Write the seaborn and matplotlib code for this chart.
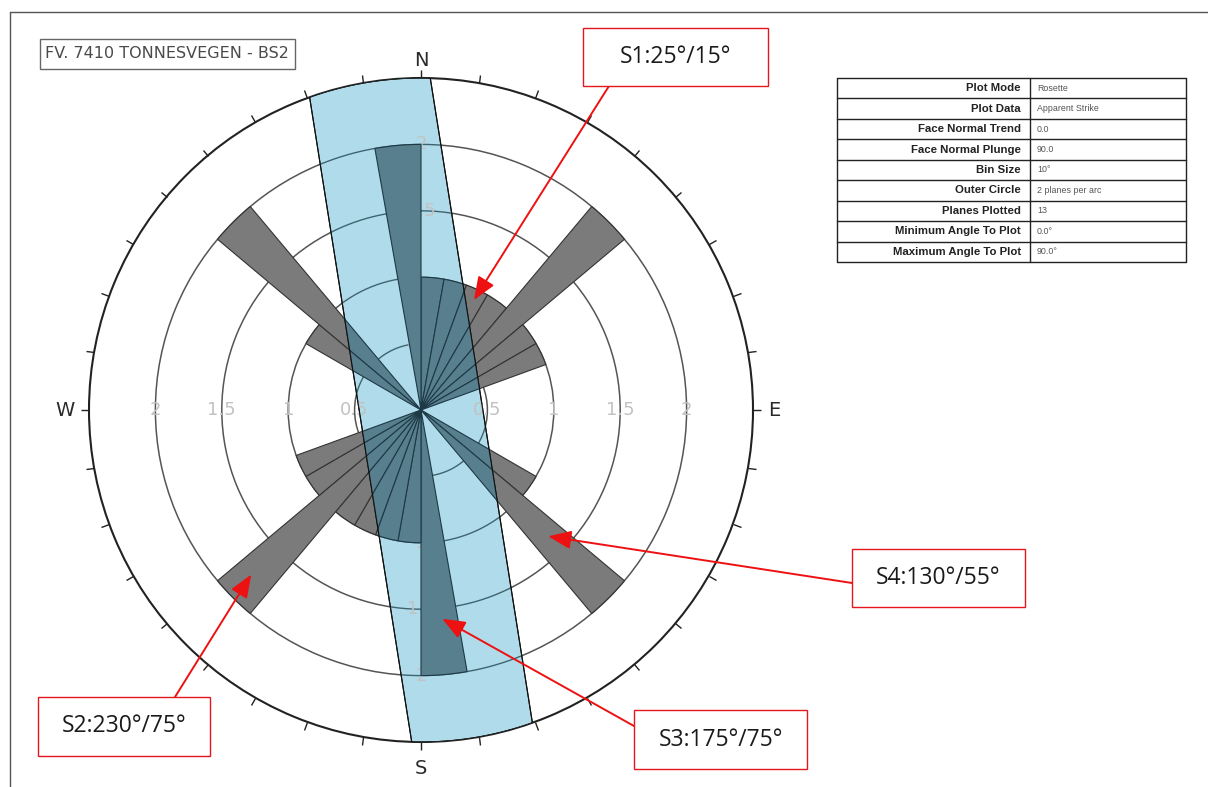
import numpy as np
import pandas as pd
import matplotlib
matplotlib.use("Agg")
import matplotlib.pyplot as plt
import seaborn as sns
from matplotlib.patches import Rectangle, Polygon
from matplotlib.lines import Line2D

# ---- rose diagram data: apparent strike, 10° bins (counts of planes) ----
bin_start = [0, 10, 20, 30, 40, 50, 60, 120, 130, 170]
bin_count = [1, 1, 1, 1, 2, 1, 1, 1, 2, 2]
bin_size = 10
ring_values = [0.5, 1, 1.5, 2]
ring_labels = ["0.5", "1", "1.5", "2"]
outer_radius = 2.5

cardinal_names = ["N", "E", "S", "W"]
cardinal_az = [0, 90, 180, 270]
cardinal_r = [2.63, 2.66, 2.70, 2.68]

# slope face window (strike and half width, in plot units)
face_strike = 171
face_half_width = 0.46

# joint sets with the point each callout indicates
set_labels = ["S1:25°/15°", "S2:230°/75°", "S3:175°/75°", "S4:130°/55°"]
set_az = [25.7, 225.9, 174.2, 134.8]
set_r = [0.92, 1.78, 1.58, 1.35]

title = "FV. 7410 TONNESVEGEN - BS2"
info_keys = ["Plot Mode", "Plot Data", "Face Normal Trend", "Face Normal Plunge",
             "Bin Size", "Outer Circle", "Planes Plotted",
             "Minimum Angle To Plot", "Maximum Angle To Plot"]
info_vals = ["Rosette", "Apparent Strike", "0.0", "90.0", "10°",
             "2 planes per arc", "13", "0.0°", "90.0°"]

# strikes are bidirectional: each bin is drawn at both ends
rose = pd.DataFrame({"start": bin_start, "count": bin_count})
rose = pd.concat([rose, rose.assign(start=rose["start"] + 180)], ignore_index=True)

sns.set_theme(style="white")
plt.rcParams["font.family"] = ["DejaVu Sans"]
plt.rcParams["xtick.bottom"] = True
plt.rcParams["xtick.top"] = True

W, H = 1208, 787
fig = plt.figure(figsize=(W / 100, H / 100), dpi=100)
fig.patch.set_facecolor("white")


def fx(px):
    return px / W


def fy(py):
    return (H - py) / H


# outer frame (top and left edges)
fig.add_artist(Line2D([fx(10), 1.0], [fy(12), fy(12)], color="#555555", lw=1.0))
fig.add_artist(Line2D([fx(10), fx(10)], [fy(12), 0.0], color="#555555", lw=1.0))

# polar axes for the rose
cx, cy, R = 421, 410, 332
ax = fig.add_axes([fx(cx - R), fy(cy + R), 2 * R / W, 2 * R / H], projection="polar")
ax.set_theta_zero_location("N")
ax.set_theta_direction(-1)
ax.set_ylim(0, outer_radius)
ax.set_axisbelow(True)
ax.set_yticks(ring_values)
ax.set_yticklabels([])
ax.yaxis.grid(True, color="#555555", lw=1.1)
ax.set_xticks(np.deg2rad(np.arange(0, 360, 10)))
ax.set_xticklabels([])
ax.xaxis.grid(False)
ax.tick_params(axis="x", which="major", bottom=True, top=True, direction="out",
               length=6, width=1.0, color="#222222")
ax.spines["polar"].set_linewidth(1.5)
ax.spines["polar"].set_color("#222222")
ax.set_facecolor("white")

theta = np.deg2rad(rose["start"].to_numpy())
width = np.deg2rad(bin_size)
ax.bar(theta, rose["count"], width=width, align="edge", color="#7b7b7b",
       edgecolor="#333333", lw=0.8, zorder=2)

# slope face window: a strip along the face strike, clipped by the outer circle
t = np.deg2rad(face_strike)
u = np.array([np.sin(t), np.cos(t)])   # along strike (east, north)
nrm = np.array([np.cos(t), -np.sin(t)])  # across strike
L = np.sqrt(outer_radius ** 2 - face_half_width ** 2)
ls = np.linspace(-L, L, 600)
edge_a = (-face_half_width) * nrm[None, :] + ls[:, None] * u[None, :]
edge_b = (face_half_width) * nrm[None, :] + ls[::-1, None] * u[None, :]


def to_polar(pts):
    return np.arctan2(pts[:, 0], pts[:, 1]), np.hypot(pts[:, 0], pts[:, 1])


def arc(p0, p1):
    a0 = np.arctan2(p0[0], p0[1])
    a1 = np.arctan2(p1[0], p1[1])
    d = (a1 - a0 + np.pi) % (2 * np.pi) - np.pi
    aa = a0 + np.linspace(0, d, 60)
    return aa, np.full_like(aa, outer_radius)


ta, ra = to_polar(edge_a)
tb, rb = to_polar(edge_b)
t1, r1 = arc(edge_a[-1], edge_b[0])
t2, r2 = arc(edge_b[-1], edge_a[0])
band_theta = np.concatenate([ta, t1, tb, t2])
band_r = np.concatenate([ra, r1, rb, r2])
band = Polygon(np.column_stack([band_theta, band_r]), closed=True,
               facecolor="#b0dbea", edgecolor="#111111", lw=0.8, zorder=3)
ax.add_patch(band)

# rings seen through the window
ring_t = np.linspace(0, 2 * np.pi, 720)
for rv in ring_values:
    ln, = ax.plot(ring_t, np.full_like(ring_t, rv), color="#3f6470", lw=1.0, zorder=3.2)
    ln.set_clip_path(band)

# ring value labels along the cardinal axes
for az in [0, 90, 180, 270]:
    for rv, lab in zip(ring_values, ring_labels):
        ax.text(np.deg2rad(az), rv, lab, ha="center", va="center",
                fontsize=13, color="#c2c2c2", zorder=3.4)

# bars inside the window
dark = ax.bar(theta, rose["count"], width=width, align="edge", color="#587f8e",
              edgecolor="#1d3945", lw=0.8, zorder=3.6)
for p in dark.patches:
    p.set_clip_path(band)
band_edge = Polygon(np.column_stack([band_theta, band_r]), closed=True,
                    facecolor="none", edgecolor="#111111", lw=0.8, zorder=3.7)
ax.add_patch(band_edge)

# compass letters
for name, az, rr in zip(cardinal_names, cardinal_az, cardinal_r):
    ax.text(np.deg2rad(az), rr, name, ha="center", va="center",
            fontsize=14, color="#2a2a2a", clip_on=False)

# title box
fig.add_artist(Rectangle((fx(40), fy(69)), fx(295) - fx(40), fy(39) - fy(69),
                         transform=fig.transFigure, facecolor="white",
                         edgecolor="#666666", lw=1.0))
fig.text(fx(45), fy(54), title, ha="left", va="center", fontsize=11.5, color="#4a4a4a")

# info table
tx0, tx1, txm = 837, 1186, 1030
ty0, ty1 = 78, 262
nrow = len(info_keys)
rh = (ty1 - ty0) / nrow
for i in range(nrow + 1):
    yy = ty0 + i * rh
    fig.add_artist(Line2D([fx(tx0), fx(tx1)], [fy(yy), fy(yy)], color="#222222", lw=1.0))
for xx in [tx0, txm, tx1]:
    fig.add_artist(Line2D([fx(xx), fx(xx)], [fy(ty0), fy(ty1)], color="#222222", lw=1.0))
for i, (k, v) in enumerate(zip(info_keys, info_vals)):
    yy = ty0 + (i + 0.5) * rh
    fig.text(fx(txm - 9), fy(yy), k, ha="right", va="center", fontsize=8.2,
             fontweight="bold", family="Liberation Sans", color="#222222")
    fig.text(fx(txm + 7), fy(yy), v, ha="left", va="center", fontsize=6.4,
             family="Liberation Sans", color="#555555")

# callout boxes with arrows
boxes = [(583, 28, 768, 86), (38, 697, 210, 756), (634, 710, 807, 769), (852, 549, 1025, 607)]
starts = [(609, 86), (175, 697), (634, 726), (852, 583)]
for lab, (x0, y0, x1, y1), (sx, sy), az, rr in zip(set_labels, boxes, starts, set_az, set_r):
    fig.add_artist(Rectangle((fx(x0), fy(y1)), fx(x1) - fx(x0), fy(y0) - fy(y1),
                             transform=fig.transFigure, facecolor="white",
                             edgecolor="#e5161c", lw=1.0, zorder=5))
    fig.text(fx((x0 + x1) / 2), fy((y0 + y1) / 2), lab, ha="center", va="center",
             fontsize=16.5, family="Open Sans", color="#1a1a1a", zorder=6)
    ax.annotate("", xy=(np.deg2rad(az), rr), xycoords="data",
                xytext=(sx, H - sy), textcoords="figure pixels",
                arrowprops=dict(arrowstyle="-|>,head_length=0.7,head_width=0.28",
                                color="#ee1111", lw=1.4, mutation_scale=20,
                                shrinkA=0, shrinkB=0),
                annotation_clip=False, zorder=10)

fig.savefig("out.png", dpi=100)
